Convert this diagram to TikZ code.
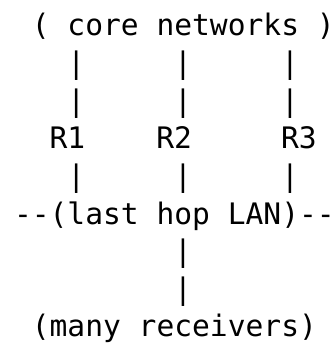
\documentclass[tikz,border=0pt]{standalone}
\usepackage{fontspec}
\newfontfamily\asciifont{DejaVu Sans Mono}

\begin{document}
\begin{tikzpicture}[x=17.8pt, y=-37.6pt,
    ascii/.style={anchor=base west, inner sep=0pt, outer sep=0pt,
        font=\asciifont\fontsize{29.6pt}{37.6pt}\selectfont}]
    % Page size (one character cell = 1 unit)
    \useasboundingbox (-14pt,36pt) rectangle (320pt,-309pt);

    % Core networks
    \node[ascii] (core) at (1,0) {( core networks )};

    % Links down to the routers
    \foreach \c/\n in {3/a, 9/b, 15/c} {
        \node[ascii] (top\n) at (\c,1) {|};
        \node[ascii] (mid\n) at (\c,2) {|};
        \node[ascii] (low\n) at (\c,4) {|};
    }

    % Routers
    \node[ascii] (r1) at (2,3) {R1};
    \node[ascii] (r2) at (8,3) {R2};
    \node[ascii] (r3) at (15,3) {R3};

    % Last hop LAN
    \node[ascii] (lan) at (0,5) {-{}-(last hop LAN)-{}-};

    % Down to the receivers
    \node[ascii] (drop1) at (9,6) {|};
    \node[ascii] (drop2) at (9,7) {|};
    \node[ascii] (rcv) at (1,8) {(many receivers)};
\end{tikzpicture}
\end{document}
